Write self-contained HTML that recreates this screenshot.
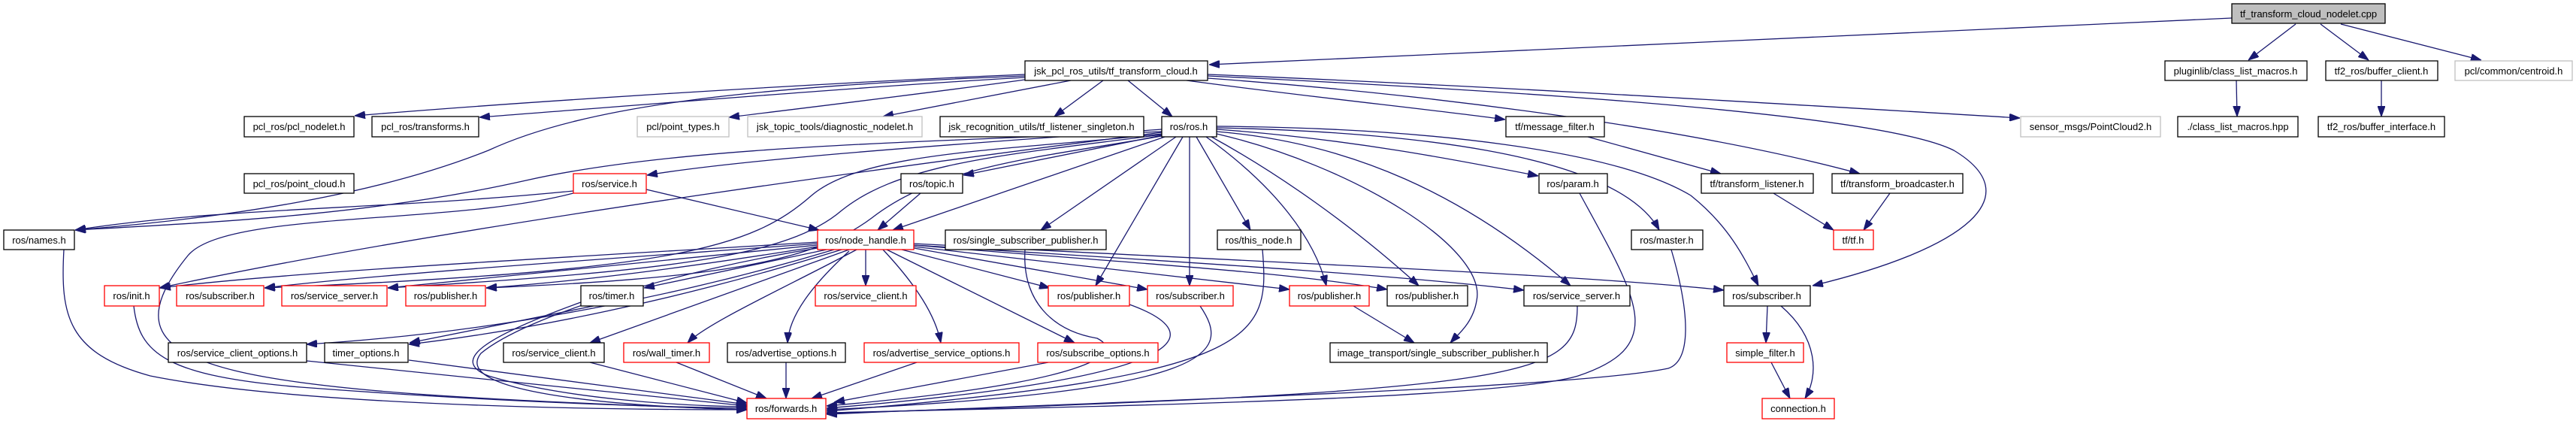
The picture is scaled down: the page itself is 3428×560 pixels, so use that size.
<!DOCTYPE html>
<html><head><meta charset="utf-8"><style>
html,body{margin:0;padding:0;background:#fff;}
svg{display:block;}
text{font-family:"Liberation Sans",sans-serif;font-size:13px;fill:#000;}
.e{fill:none;stroke:#191970;stroke-width:1.3;marker-end:url(#a);}
.b{fill:#fff;stroke:#000;stroke-width:1.3;}
.r{fill:#fff;stroke:#ff0000;stroke-width:1.3;}
.g{fill:#fff;stroke:#bfbfbf;stroke-width:1.3;}
</style></head><body>
<svg width="3428" height="560" viewBox="0 0 3428 560" xmlns="http://www.w3.org/2000/svg">
<defs><marker id="a" viewBox="0 0 14 10" refX="14" refY="5" markerWidth="14" markerHeight="10" markerUnits="userSpaceOnUse" orient="auto"><path d="M0,0 L14,5 L0,10 z" fill="#191970" stroke="#191970"/></marker></defs>
<g>
<path class="e" d="M2970,24 L1609,86"/>
<path class="e" d="M3055,32 L2992,80"/>
<path class="e" d="M3088,32 L3152,80"/>
<path class="e" d="M3115,32 L3302,80"/>
<path class="e" d="M2976,107 L2977,155"/>
<path class="e" d="M3169,107 L3169,155"/>
<path class="e" d="M1364,99 C1100,110 700,135 472,154"/>
<path class="e" d="M1364,103 C1150,115 850,140 638,156"/>
<path class="e" d="M1364,106 C1250,122 1100,140 970,156"/>
<path class="e" d="M1425,107 L1175,155"/>
<path class="e" d="M1468,107 L1403,155"/>
<path class="e" d="M1501,107 L1560,155"/>
<path class="e" d="M1364,101 C1000,115 780,140 650,200 C500,260 300,290 100,306"/>
<path class="e" d="M1579,107 C1750,130 1900,145 2003,159"/>
<path class="e" d="M1607,99 C2000,115 2400,140 2688,157"/>
<path class="e" d="M1607,104 C1900,125 2250,170 2475,231"/>
<path class="e" d="M1607,101 C2000,120 2500,150 2600,200 C2700,260 2620,330 2412,380"/>
<path class="e" d="M2113,182 L2290,231"/>
<path class="e" d="M2360,257 L2440,306"/>
<path class="e" d="M2515,257 L2480,306"/>
<path class="e" d="M2352,407 L2350,456"/>
<path class="e" d="M2370,407 C2420,450 2420,500 2402,530"/>
<path class="e" d="M2357,482 L2382,530"/>
<path class="e" d="M1546,180 L1282,233"/>
<path class="e" d="M1550,182 L1188,306"/>
<path class="e" d="M1565,182 L1385,306"/>
<path class="e" d="M1574,182 L1458,380"/>
<path class="e" d="M1583,182 L1583,380"/>
<path class="e" d="M1592,182 L1664,306"/>
<path class="e" d="M1605,182 C1700,250 1750,320 1765,380"/>
<path class="e" d="M1612,182 C1700,230 1800,300 1888,380"/>
<path class="e" d="M1619,178 C1800,220 1980,330 1965,400 C1960,430 1940,445 1930,456"/>
<path class="e" d="M1619,175 C1800,190 1950,260 2090,380"/>
<path class="e" d="M1619,172 C1800,185 1950,215 2047,234"/>
<path class="e" d="M1619,170 C1850,175 2150,200 2208,306"/>
<path class="e" d="M1619,168 C1900,170 2150,200 2250,260 C2300,300 2320,340 2340,380"/>
<path class="e" d="M1546,172 C1300,190 1000,210 861,233"/>
<path class="e" d="M1546,175 C1200,190 900,195 700,240 C500,285 300,295 100,306"/>
<path class="e" d="M1546,176 C1200,220 600,300 212,383"/>
<path class="e" d="M1546,178 C1350,200 1150,200 1080,260 C1000,330 900,360 352,383"/>
<path class="e" d="M1546,179 C1350,205 1200,215 1120,280 C1050,340 900,360 516,383"/>
<path class="e" d="M1546,181 C1380,210 1250,220 1160,290 C1080,350 950,370 647,383"/>
<path class="e" d="M763,254 C500,280 300,275 100,306"/>
<path class="e" d="M860,252 L1090,306"/>
<path class="e" d="M763,257 C600,300 300,280 250,340 C120,500 300,520 994,545"/>
<path class="e" d="M1225,257 L1168,306"/>
<path class="e" d="M1088,322 C800,340 400,360 213,383"/>
<path class="e" d="M1088,324 C800,345 500,365 352,383"/>
<path class="e" d="M1088,326 C850,350 650,370 516,383"/>
<path class="e" d="M1088,328 C950,350 800,372 647,383"/>
<path class="e" d="M1100,332 L857,383"/>
<path class="e" d="M1110,332 C950,380 700,440 408,458"/>
<path class="e" d="M1120,332 C900,400 700,440 544,458"/>
<path class="e" d="M1130,332 L785,456"/>
<path class="e" d="M1140,332 C1050,380 940,430 915,456"/>
<path class="e" d="M1152,332 L1152,380"/>
<path class="e" d="M1130,334 C1080,380 1050,420 1048,456"/>
<path class="e" d="M1175,332 C1220,380 1245,420 1252,456"/>
<path class="e" d="M1180,332 L1430,456"/>
<path class="e" d="M1200,332 L1397,383"/>
<path class="e" d="M1216,330 L1527,385"/>
<path class="e" d="M1216,328 L1716,385"/>
<path class="e" d="M1216,326 C1500,350 1700,360 1846,385"/>
<path class="e" d="M1216,326 C1600,350 1850,365 2028,386"/>
<path class="e" d="M1216,324 C1700,350 2100,365 2294,386"/>
<path class="e" d="M1088,330 C900,360 700,420 640,470 C600,520 800,540 994,545"/>
<path class="e" d="M85,332 C80,420 90,470 200,500 C400,540 800,545 994,545"/>
<path class="e" d="M178,407 C185,470 220,500 400,515 C600,530 800,540 994,543"/>
<path class="e" d="M408,480 L994,540"/>
<path class="e" d="M544,479 L994,538"/>
<path class="e" d="M785,482 L994,536"/>
<path class="e" d="M900,482 L1020,530"/>
<path class="e" d="M773,402 C640,450 600,480 650,500 C750,530 900,540 994,541"/>
<path class="e" d="M790,407 L545,456"/>
<path class="e" d="M1046,482 L1046,530"/>
<path class="e" d="M1220,482 L1080,530"/>
<path class="e" d="M1395,482 L1110,535"/>
<path class="e" d="M1364,332 C1360,400 1400,440 1460,450 C1500,470 1450,510 1100,540"/>
<path class="e" d="M1503,405 C1600,440 1620,500 1100,543"/>
<path class="e" d="M1597,407 C1640,470 1620,520 1100,545"/>
<path class="e" d="M1680,332 C1690,450 1680,500 1100,547"/>
<path class="e" d="M1801,407 L1882,456"/>
<path class="e" d="M2099,407 C2099,500 2050,520 1100,550"/>
<path class="e" d="M2102,257 C2180,400 2220,460 2100,500 C2000,530 1500,540 1100,549"/>
<path class="e" d="M2224,332 C2250,420 2250,480 2220,490 C2100,515 1600,530 1100,551"/>
</g>
<g text-anchor="middle">
<rect x="2970" y="5" width="204" height="26" fill="#bfbfbf" stroke="#000" stroke-width="1.3"/><text x="3072" y="23">tf_transform_cloud_nodelet.cpp</text>
<rect class="b" x="1364" y="81" width="243" height="26"/><text x="1485" y="99">jsk_pcl_ros_utils/tf_transform_cloud.h</text>
<rect class="b" x="2881" y="81" width="189" height="26"/><text x="2975" y="99">pluginlib/class_list_macros.h</text>
<rect class="b" x="3095" y="81" width="149" height="26"/><text x="3169" y="99">tf2_ros/buffer_client.h</text>
<rect class="g" x="3267" y="81" width="156" height="26"/><text x="3345" y="99">pcl/common/centroid.h</text>
<rect class="b" x="325" y="155" width="146" height="27"/><text x="398" y="173">pcl_ros/pcl_nodelet.h</text>
<rect class="b" x="495" y="155" width="142" height="27"/><text x="566" y="173">pcl_ros/transforms.h</text>
<rect class="g" x="848" y="155" width="122" height="27"/><text x="909" y="173">pcl/point_types.h</text>
<rect class="g" x="995" y="155" width="232" height="27"/><text x="1111" y="173">jsk_topic_tools/diagnostic_nodelet.h</text>
<rect class="b" x="1251" y="155" width="271" height="27"/><text x="1386" y="173">jsk_recognition_utils/tf_listener_singleton.h</text>
<rect class="b" x="1546" y="155" width="73" height="27"/><text x="1582" y="173">ros/ros.h</text>
<rect class="b" x="2004" y="155" width="131" height="27"/><text x="2069" y="173">tf/message_filter.h</text>
<rect class="g" x="2689" y="155" width="186" height="27"/><text x="2782" y="173">sensor_msgs/PointCloud2.h</text>
<rect class="b" x="2898" y="155" width="160" height="27"/><text x="2978" y="173">./class_list_macros.hpp</text>
<rect class="b" x="3085" y="155" width="168" height="27"/><text x="3169" y="173">tf2_ros/buffer_interface.h</text>
<rect class="b" x="325" y="231" width="146" height="26"/><text x="398" y="249">pcl_ros/point_cloud.h</text>
<rect class="r" x="763" y="231" width="97" height="26"/><text x="811" y="249">ros/service.h</text>
<rect class="b" x="1199" y="231" width="82" height="26"/><text x="1240" y="249">ros/topic.h</text>
<rect class="b" x="2048" y="231" width="91" height="26"/><text x="2093" y="249">ros/param.h</text>
<rect class="b" x="2264" y="231" width="149" height="26"/><text x="2338" y="249">tf/transform_listener.h</text>
<rect class="b" x="2438" y="231" width="174" height="26"/><text x="2525" y="249">tf/transform_broadcaster.h</text>
<rect class="b" x="5" y="306" width="94" height="26"/><text x="52" y="324">ros/names.h</text>
<rect class="r" x="1088" y="306" width="128" height="26"/><text x="1152" y="324">ros/node_handle.h</text>
<rect class="b" x="1258" y="306" width="214" height="26"/><text x="1365" y="324">ros/single_subscriber_publisher.h</text>
<rect class="b" x="1620" y="306" width="111" height="26"/><text x="1675" y="324">ros/this_node.h</text>
<rect class="b" x="2171" y="306" width="95" height="26"/><text x="2218" y="324">ros/master.h</text>
<rect class="r" x="2440" y="306" width="53" height="26"/><text x="2466" y="324">tf/tf.h</text>
<rect class="r" x="139" y="380" width="73" height="27"/><text x="175" y="398">ros/init.h</text>
<rect class="r" x="235" y="380" width="116" height="27"/><text x="293" y="398">ros/subscriber.h</text>
<rect class="r" x="375" y="380" width="140" height="27"/><text x="445" y="398">ros/service_server.h</text>
<rect class="r" x="540" y="380" width="106" height="27"/><text x="593" y="398">ros/publisher.h</text>
<rect class="b" x="773" y="380" width="83" height="27"/><text x="814" y="398">ros/timer.h</text>
<rect class="r" x="1085" y="380" width="134" height="27"/><text x="1152" y="398">ros/service_client.h</text>
<rect class="r" x="1395" y="380" width="108" height="27"/><text x="1449" y="398">ros/publisher.h</text>
<rect class="r" x="1527" y="380" width="114" height="27"/><text x="1584" y="398">ros/subscriber.h</text>
<rect class="r" x="1716" y="380" width="106" height="27"/><text x="1769" y="398">ros/publisher.h</text>
<rect class="b" x="1846" y="380" width="107" height="27"/><text x="1899" y="398">ros/publisher.h</text>
<rect class="b" x="2028" y="380" width="141" height="27"/><text x="2098" y="398">ros/service_server.h</text>
<rect class="b" x="2294" y="380" width="115" height="27"/><text x="2351" y="398">ros/subscriber.h</text>
<rect class="b" x="224" y="456" width="184" height="26"/><text x="316" y="474">ros/service_client_options.h</text>
<rect class="b" x="432" y="456" width="111" height="26"/><text x="487" y="474">timer_options.h</text>
<rect class="b" x="670" y="456" width="134" height="26"/><text x="737" y="474">ros/service_client.h</text>
<rect class="r" x="830" y="456" width="114" height="26"/><text x="887" y="474">ros/wall_timer.h</text>
<rect class="b" x="968" y="456" width="157" height="26"/><text x="1046" y="474">ros/advertise_options.h</text>
<rect class="r" x="1150" y="456" width="206" height="26"/><text x="1253" y="474">ros/advertise_service_options.h</text>
<rect class="r" x="1381" y="456" width="160" height="26"/><text x="1461" y="474">ros/subscribe_options.h</text>
<rect class="b" x="1770" y="456" width="289" height="26"/><text x="1914" y="474">image_transport/single_subscriber_publisher.h</text>
<rect class="r" x="2298" y="456" width="102" height="26"/><text x="2349" y="474">simple_filter.h</text>
<rect class="r" x="994" y="530" width="105" height="27"/><text x="1046" y="548">ros/forwards.h</text>
<rect class="r" x="2345" y="530" width="96" height="27"/><text x="2393" y="548">connection.h</text>
</g>
</svg>
</body></html>
